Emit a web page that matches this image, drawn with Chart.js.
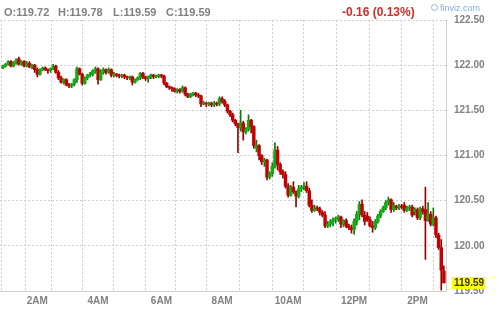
<!DOCTYPE html>
<html><head><meta charset="utf-8">
<script src="https://cdn.jsdelivr.net/npm/chart.js@4.4.1/dist/chart.umd.min.js"></script>
<style>
html,body{margin:0;padding:0;background:#fff;}
#wrap{position:relative;width:499px;height:315px;overflow:hidden;background:#fff;}
canvas{position:absolute;left:0;top:0;}
.hd{position:absolute;font-family:'Liberation Sans',Arial,sans-serif;white-space:nowrap;}
.ohlc{top:6px;font-size:11px;line-height:12px;font-weight:bold;color:#808080;}
</style></head><body>
<div id="wrap">
<canvas id="c" width="499" height="315"></canvas>
<div class="hd ohlc" id="hO" style="left:4px"></div>
<div class="hd ohlc" id="hH" style="left:58px"></div>
<div class="hd ohlc" id="hL" style="left:113px"></div>
<div class="hd ohlc" id="hC" style="left:166px"></div>
<div class="hd" style="left:342px;top:5px;font-size:12px;line-height:14px;font-weight:bold;color:#d42a2a;">-0.16 (0.13%)</div>
<div class="hd" style="left:431px;top:4px;width:5px;height:5px;border:1px solid #8db4e0;border-radius:50%;"></div>
<div class="hd" style="left:440px;top:3px;font-size:9px;line-height:11px;color:#7fb0e6;">finviz.com</div>
</div>
<script>
// 5-minute candles (bar index order)
const opens = [121.97,121.99,122.01,122.04,121.99,122.02,122.07,122.01,122.04,121.99,
122.02,121.98,122.00,121.95,121.90,121.95,121.97,121.95,121.94,121.96,
121.99,121.92,121.86,121.81,121.84,121.78,121.77,121.79,121.84,121.96,
121.90,121.80,121.86,121.89,121.90,121.94,121.96,121.84,121.92,121.95,
121.92,121.95,121.89,121.90,121.89,121.88,121.89,121.87,121.86,121.87,
121.81,121.84,121.86,121.91,121.87,121.85,121.87,121.89,121.87,121.88,
121.89,121.88,121.80,121.76,121.75,121.74,121.71,121.73,121.71,121.75,
121.68,121.65,121.68,121.69,121.67,121.66,121.57,121.58,121.57,121.58,
121.56,121.58,121.57,121.63,121.60,121.56,121.49,121.45,121.39,121.35,
121.31,121.36,121.26,121.29,121.39,121.32,121.08,121.11,121.00,120.93,
120.95,120.76,120.80,120.88,121.06,120.90,120.82,120.79,120.66,120.56,
120.65,120.60,120.55,120.63,120.65,120.66,120.61,120.45,120.39,120.42,
120.41,120.37,120.34,120.22,120.24,120.27,120.29,120.30,120.32,120.24,
120.28,120.22,120.20,120.18,120.27,120.35,120.46,120.34,120.33,120.29,
120.22,120.20,120.27,120.33,120.38,120.42,120.48,120.51,120.40,120.44,
120.42,120.44,120.45,120.39,120.42,120.43,120.38,120.40,120.31,120.41,
120.40,120.29,120.35,120.24,120.31,120.12,119.98,119.72];
const highs = [122.00,122.02,122.05,122.05,122.04,122.07,122.09,122.05,122.05,122.04,
122.04,122.01,122.01,121.97,121.96,121.98,121.98,121.96,121.97,122.01,
122.00,121.94,121.88,121.85,121.85,121.80,121.80,121.85,121.98,121.97,
121.91,121.87,121.90,121.92,121.95,121.98,121.97,121.95,121.97,121.96,
121.97,121.96,121.92,121.91,121.90,121.90,121.90,121.88,121.88,121.88,
121.85,121.87,121.92,121.92,121.88,121.88,121.90,121.90,121.89,121.90,
121.90,121.89,121.81,121.77,121.76,121.75,121.74,121.74,121.77,121.76,
121.69,121.69,121.70,121.70,121.69,121.67,121.60,121.59,121.59,121.59,
121.60,121.59,121.65,121.65,121.62,121.57,121.50,121.47,121.40,121.36,
121.50,121.38,121.31,121.45,121.40,121.33,121.17,121.12,121.01,120.97,
120.96,120.82,120.92,121.14,121.10,120.92,120.84,120.82,120.69,120.67,
120.71,120.61,120.67,120.67,120.70,120.71,120.64,120.51,120.45,120.44,
120.43,120.39,120.38,120.27,120.29,120.31,120.32,120.34,120.33,120.29,
120.30,120.24,120.23,120.30,120.38,120.49,120.51,120.38,120.37,120.32,
120.27,120.29,120.35,120.40,120.44,120.50,120.54,120.52,120.48,120.45,
120.46,120.46,120.48,120.44,120.45,120.45,120.42,120.42,120.43,120.44,
120.65,120.48,120.38,120.42,120.33,120.14,120.07,119.78];
const lows = [121.96,121.98,122.00,121.98,121.98,122.01,122.00,122.00,121.98,121.98,
121.97,121.96,121.92,121.87,121.89,121.94,121.94,121.91,121.92,121.95,
121.91,121.84,121.80,121.79,121.77,121.75,121.75,121.77,121.81,121.89,
121.78,121.79,121.84,121.87,121.88,121.91,121.79,121.83,121.90,121.90,
121.91,121.87,121.87,121.87,121.86,121.86,121.85,121.84,121.84,121.78,
121.80,121.83,121.84,121.85,121.83,121.81,121.85,121.85,121.86,121.86,
121.86,121.78,121.75,121.73,121.71,121.70,121.69,121.69,121.70,121.66,
121.64,121.64,121.66,121.65,121.64,121.54,121.56,121.54,121.55,121.54,
121.54,121.55,121.55,121.58,121.54,121.47,121.43,121.37,121.33,121.03,
121.27,121.17,121.24,121.27,121.25,121.08,121.04,120.95,120.90,120.88,
120.73,120.74,120.77,120.86,120.84,120.79,120.75,120.64,120.54,120.55,
120.58,120.43,120.53,120.60,120.62,120.59,120.43,120.37,120.38,120.39,
120.34,120.32,120.20,120.20,120.21,120.22,120.25,120.27,120.20,120.21,
120.20,120.18,120.14,120.13,120.23,120.29,120.32,120.23,120.27,120.21,
120.15,120.18,120.25,120.31,120.37,120.40,120.45,120.37,120.38,120.40,
120.40,120.41,120.37,120.38,120.39,120.32,120.34,120.29,120.29,120.35,
119.85,120.27,120.22,120.22,120.09,119.96,119.51,119.59];
const closes = [121.99,122.01,122.04,121.99,122.02,122.06,122.01,122.04,121.99,122.02,
121.98,122.00,121.95,121.90,121.95,121.97,121.95,121.94,121.96,121.99,
121.92,121.86,121.81,121.84,121.78,121.77,121.79,121.84,121.96,121.90,
121.80,121.86,121.89,121.90,121.94,121.96,121.84,121.92,121.95,121.92,
121.95,121.89,121.90,121.89,121.88,121.89,121.87,121.86,121.87,121.81,
121.84,121.86,121.91,121.87,121.85,121.87,121.89,121.87,121.88,121.89,
121.88,121.80,121.76,121.75,121.74,121.71,121.73,121.71,121.75,121.68,
121.65,121.68,121.69,121.67,121.66,121.57,121.58,121.57,121.58,121.56,
121.58,121.57,121.63,121.60,121.56,121.49,121.45,121.39,121.35,121.31,
121.36,121.26,121.29,121.39,121.32,121.11,121.11,121.00,120.93,120.95,
120.76,120.80,120.88,121.06,120.90,120.82,120.79,120.66,120.56,120.65,
120.60,120.55,120.63,120.65,120.66,120.61,120.45,120.39,120.42,120.41,
120.37,120.34,120.22,120.24,120.27,120.29,120.30,120.32,120.24,120.28,
120.22,120.20,120.18,120.27,120.35,120.46,120.34,120.27,120.29,120.22,
120.20,120.27,120.33,120.38,120.42,120.48,120.51,120.40,120.44,120.42,
120.44,120.43,120.39,120.42,120.43,120.34,120.40,120.31,120.41,120.38,
120.28,120.35,120.24,120.31,120.12,119.98,119.73,119.59];
// bar index at which each hour starts, and its axis label
const hourBars = [4, 13, 24, 36, 48, 60, 71, 83, 96, 108, 120, 133, 145, 157];
const hourLabels = ['', '2AM', '', '4AM', '', '6AM', '', '8AM', '', '10AM', '', '12PM', '', '2PM'];
const priceTicks = [119.5, 120.0, 120.5, 121.0, 121.5, 122.0, 122.5];

const last = closes.length - 1;
document.getElementById('hO').textContent = 'O:' + opens[last].toFixed(2);
document.getElementById('hH').textContent = 'H:' + highs[last].toFixed(2);
document.getElementById('hL').textContent = 'L:' + lows[last].toFixed(2);
document.getElementById('hC').textContent = 'C:' + closes[last].toFixed(2);

const isUp = i => closes[i] >= opens[i];
const FONT = "'Liberation Sans', Arial, sans-serif";

const lastLabel = {
  id: 'lastLabel',
  afterDraw(chart) {
    const ctx = chart.ctx;
    const y = chart.scales.y.getPixelForValue(closes[last]);
    ctx.save();
    ctx.fillStyle = '#ffff00';
    ctx.fillRect(452, Math.round(y) - 6, 33, 12);
    ctx.fillStyle = '#333333';
    ctx.font = 'bold 10px ' + FONT;
    ctx.textBaseline = 'middle';
    ctx.textAlign = 'left';
    ctx.fillText(closes[last].toFixed(2), 454, Math.round(y) + 0.5);
    ctx.restore();
  }
};

new Chart(document.getElementById('c'), {
  type: 'bar',
  data: {
    datasets: [
      {
        label: 'wick',
        data: closes.map((c, i) => ({x: i, y: [lows[i], highs[i]]})),
        backgroundColor: ctx => isUp(ctx.dataIndex) ? '#0b760b' : '#960000',
        barThickness: 1,
        grouped: false,
        order: 2
      },
      {
        label: 'body',
        data: closes.map((c, i) => ({x: i, y: [opens[i], closes[i]]})),
        backgroundColor: ctx => isUp(ctx.dataIndex) ? '#10ad10' : '#c40000',
        barThickness: 2.8,
        minBarLength: 1,
        grouped: false,
        order: 1
      }
    ]
  },
  options: {
    responsive: false,
    animation: false,
    devicePixelRatio: 1,
    layout: {padding: {top: 20, left: 0, right: 0, bottom: 0}},
    plugins: {legend: {display: false}, tooltip: {enabled: false}},
    scales: {
      x: {
        type: 'linear', min: -1.14, max: 167.8, offset: false,
        grid: {color: '#cfcfcf', drawTicks: false},
        border: {display: true, dash: [2, 2], color: '#cfcfcf'},
        ticks: {
          padding: 4, autoSkip: false, maxRotation: 0, color: '#808080',
          font: {family: FONT, size: 10, weight: 'bold'},
          callback: (v, i) => hourLabels[i]
        },
        afterBuildTicks: s => { s.ticks = hourBars.map(v => ({value: v})); },
        afterFit: s => { s.height = 24; }
      },
      y: {
        position: 'right', min: 119.5, max: 122.5,
        grid: {color: '#cfcfcf', drawTicks: false},
        border: {display: true, dash: [2, 2], color: '#cfcfcf'},
        ticks: {
          padding: 8, color: '#808080',
          font: {family: FONT, size: 10, weight: 'bold'},
          callback: v => Number(v).toFixed(2)
        },
        afterBuildTicks: s => { s.ticks = priceTicks.map(v => ({value: v})); },
        afterFit: s => { s.width = 53; }
      }
    }
  },
  plugins: [lastLabel]
});
</script>
</body></html>
